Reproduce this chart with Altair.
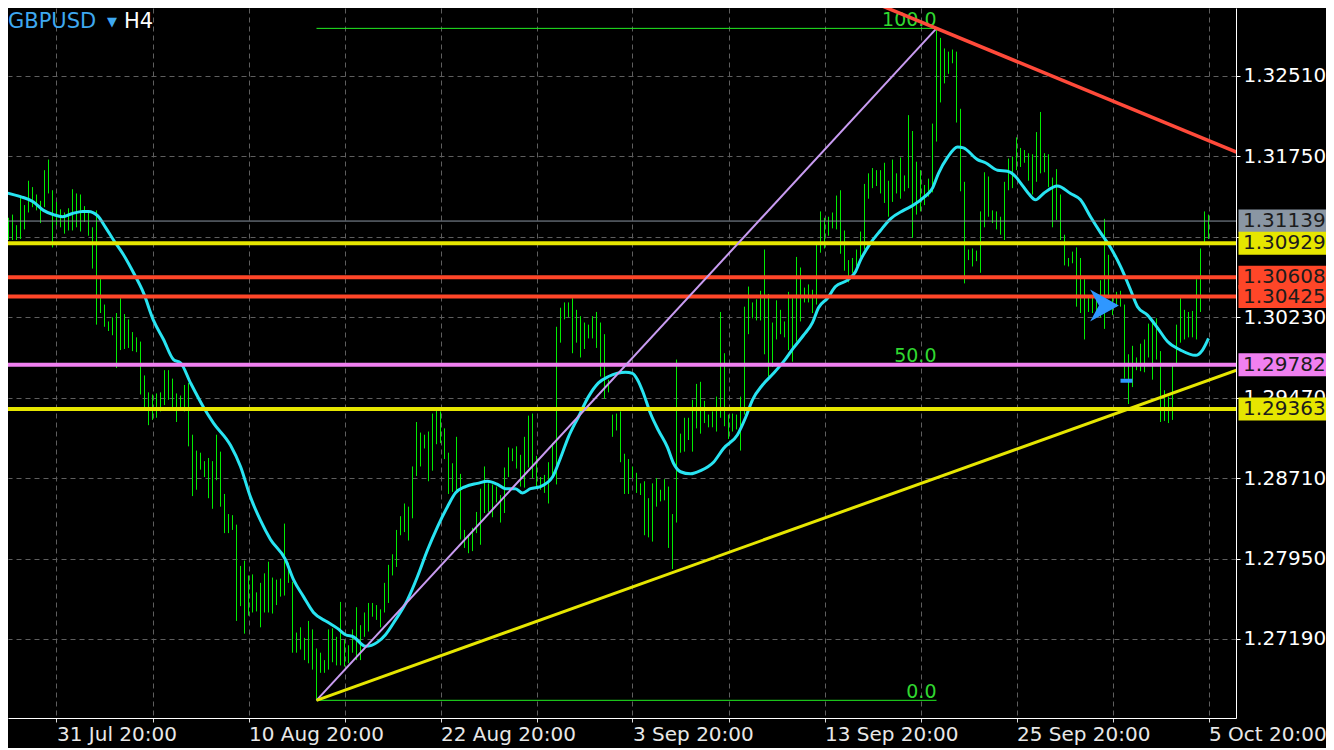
import altair as alt
import pandas as pd

# ---------------- data (GBPUSD H4) ----------------
bar_high = [
    1.3130, 1.3117, 1.3120, 1.3110, 1.3136, 1.3129, 1.3152, 1.3146, 1.3139, 1.3133,
    1.3162, 1.3172, 1.3143, 1.3132, 1.3125, 1.3122, 1.3126, 1.3144, 1.3140, 1.3139,
    1.3128, 1.3124, 1.3108, 1.3124, 1.3061, 1.3035, 1.3019, 1.3023, 1.3027, 1.3041,
    1.3026, 1.3021, 1.3009, 1.3004, 1.3000, 1.2968, 1.2952, 1.2950, 1.2951, 1.2952,
    1.2973, 1.2973, 1.2965, 1.2951, 1.2949, 1.2959, 1.2961, 1.2912, 1.2897, 1.2895,
    1.2887, 1.2890, 1.2887, 1.2912, 1.2896, 1.2856, 1.2837, 1.2836, 1.2827, 1.2788,
    1.2793, 1.2779, 1.2780, 1.2763, 1.2772, 1.2781, 1.2792, 1.2777, 1.2775, 1.2776,
    1.2828, 1.2791, 1.2773, 1.2725, 1.2730, 1.2720, 1.2736, 1.2728, 1.2710, 1.2706,
    1.2699, 1.2728, 1.2729, 1.2721, 1.2754, 1.2718, 1.2713, 1.2728, 1.2749, 1.2732,
    1.2744, 1.2753, 1.2753, 1.2751, 1.2747, 1.2772, 1.2789, 1.2799, 1.2822, 1.2835,
    1.2847, 1.2844, 1.2882, 1.2924, 1.2914, 1.2912, 1.2915, 1.2932, 1.2935, 1.2934,
    1.2918, 1.2895, 1.2885, 1.2910, 1.2875, 1.2822, 1.2817, 1.2824, 1.2839, 1.2861,
    1.2882, 1.2866, 1.2865, 1.2863, 1.2855, 1.2881, 1.2900, 1.2899, 1.2901, 1.2893,
    1.2910, 1.2930, 1.2932, 1.2892, 1.2872, 1.2874, 1.2886, 1.2904, 1.3014, 1.3032,
    1.3037, 1.3037, 1.3041, 1.3030, 1.3024, 1.3018, 1.3016, 1.3024, 1.3028, 1.3018,
    1.3007, 1.2964, 1.2931, 1.2932, 1.2934, 1.2894, 1.2889, 1.2882, 1.2876, 1.2866,
    1.2868, 1.2852, 1.2866, 1.2871, 1.2860, 1.2870, 1.2863, 1.2837, 1.2983, 1.2913,
    1.2928, 1.2928, 1.2945, 1.2960, 1.2962, 1.2944, 1.2931, 1.2934, 1.2948, 1.3028,
    1.2989, 1.2931, 1.2932, 1.2931, 1.2948, 1.3033, 1.3052, 1.3037, 1.3040, 1.3048,
    1.3087, 1.3045, 1.3018, 1.3039, 1.3030, 1.3019, 1.3047, 1.3041, 1.3080, 1.3070,
    1.3051, 1.3054, 1.3049, 1.3093, 1.3123, 1.3117, 1.3118, 1.3122, 1.3138, 1.3143,
    1.3105, 1.3077, 1.3079, 1.3087, 1.3104, 1.3149, 1.3159, 1.3164, 1.3162, 1.3162,
    1.3169, 1.3152, 1.3172, 1.3159, 1.3174, 1.3157, 1.3214, 1.3199, 1.3170, 1.3162,
    1.3148, 1.3154, 1.3206, 1.3296, 1.3287, 1.3277, 1.3274, 1.3276, 1.3274, 1.3220,
    1.3151, 1.3087, 1.3088, 1.3086, 1.3123, 1.3160, 1.3156, 1.3124, 1.3123, 1.3118,
    1.3151, 1.3173, 1.3175, 1.3193, 1.3183, 1.3181, 1.3178, 1.3177, 1.3198, 1.3217,
    1.3178, 1.3177, 1.3155, 1.3163, 1.3139, 1.3101, 1.3079, 1.3085, 1.3089, 1.3079,
    1.3059, 1.3042, 1.3042, 1.3041, 1.3058, 1.3116, 1.3082, 1.3042, 1.3047, 1.3048,
    1.3035, 1.2988, 1.2996, 1.2985, 1.2998, 1.3002, 1.3017, 1.3018, 1.3022, 1.2991,
    1.2954, 1.2948, 1.2978, 1.3016, 1.3041, 1.3030, 1.3028, 1.3029, 1.3059, 1.3088,
    1.3123, 1.3120,
]
bar_low = [
    1.3098, 1.3096, 1.3096, 1.3096, 1.3097, 1.3106, 1.3122, 1.3127, 1.3124, 1.3112,
    1.3127, 1.3140, 1.3089, 1.3110, 1.3108, 1.3102, 1.3105, 1.3105, 1.3108, 1.3104,
    1.3113, 1.3100, 1.3069, 1.3016, 1.3027, 1.3014, 1.3010, 1.3006, 1.2975, 1.2992,
    1.2993, 1.2994, 1.2991, 1.2990, 1.2950, 1.2935, 1.2921, 1.2926, 1.2928, 1.2934,
    1.2940, 1.2945, 1.2938, 1.2924, 1.2938, 1.2934, 1.2901, 1.2854, 1.2860, 1.2879,
    1.2872, 1.2852, 1.2842, 1.2869, 1.2844, 1.2819, 1.2819, 1.2822, 1.2736, 1.2750,
    1.2724, 1.2741, 1.2744, 1.2745, 1.2730, 1.2744, 1.2744, 1.2743, 1.2751, 1.2759,
    1.2760, 1.2772, 1.2706, 1.2706, 1.2709, 1.2699, 1.2696, 1.2690, 1.2661, 1.2687,
    1.2687, 1.2690, 1.2697, 1.2694, 1.2694, 1.2693, 1.2696, 1.2706, 1.2699, 1.2699,
    1.2721, 1.2726, 1.2740, 1.2737, 1.2730, 1.2744, 1.2753, 1.2779, 1.2787, 1.2817,
    1.2820, 1.2812, 1.2833, 1.2873, 1.2882, 1.2899, 1.2868, 1.2878, 1.2903, 1.2904,
    1.2889, 1.2856, 1.2858, 1.2857, 1.2813, 1.2805, 1.2800, 1.2802, 1.2819, 1.2808,
    1.2838, 1.2839, 1.2834, 1.2848, 1.2829, 1.2838, 1.2872, 1.2887, 1.2880, 1.2863,
    1.2862, 1.2881, 1.2871, 1.2863, 1.2860, 1.2857, 1.2847, 1.2872, 1.2865, 1.2999,
    1.3021, 1.3023, 1.2989, 1.2999, 1.2985, 1.2993, 1.3003, 1.3003, 1.2994, 1.2967,
    1.2946, 1.2952, 1.2910, 1.2916, 1.2886, 1.2856, 1.2856, 1.2871, 1.2857, 1.2855,
    1.2817, 1.2815, 1.2811, 1.2844, 1.2849, 1.2850, 1.2805, 1.2785, 1.2829, 1.2895,
    1.2896, 1.2907, 1.2896, 1.2918, 1.2913, 1.2923, 1.2919, 1.2919, 1.2915, 1.2928,
    1.2920, 1.2908, 1.2915, 1.2917, 1.2897, 1.2931, 1.3007, 1.3022, 1.3020, 1.3020,
    1.2988, 1.2967, 1.2976, 1.3002, 1.3007, 1.3004, 1.2992, 1.2981, 1.3000, 1.3019,
    1.3037, 1.3037, 1.3027, 1.3035, 1.3084, 1.3088, 1.3100, 1.3107, 1.3106, 1.3083,
    1.3067, 1.3056, 1.3065, 1.3071, 1.3080, 1.3087, 1.3135, 1.3145, 1.3147, 1.3140,
    1.3131, 1.3118, 1.3132, 1.3140, 1.3135, 1.3142, 1.3145, 1.3098, 1.3120, 1.3123,
    1.3129, 1.3137, 1.3141, 1.3189, 1.3226, 1.3244, 1.3253, 1.3263, 1.3207, 1.3142,
    1.3055, 1.3077, 1.3071, 1.3076, 1.3065, 1.3108, 1.3118, 1.3112, 1.3106, 1.3101,
    1.3096, 1.3143, 1.3145, 1.3162, 1.3165, 1.3169, 1.3152, 1.3139, 1.3151, 1.3159,
    1.3160, 1.3146, 1.3108, 1.3115, 1.3096, 1.3072, 1.3071, 1.3074, 1.3033, 1.3027,
    1.3002, 1.3028, 1.3027, 1.3028, 1.3023, 1.3012, 1.3041, 1.3025, 1.3033, 1.3033,
    1.2965, 1.2941, 1.2957, 1.2973, 1.2972, 1.2971, 1.2985, 1.2964, 1.2983, 1.2924,
    1.2925, 1.2923, 1.2926, 1.2978, 1.2999, 1.3002, 1.3004, 1.3004, 1.3002, 1.3028,
    1.3093, 1.3097,
]

# moving average (bar index, price)
ma_index = [
    0, 4, 7.25, 9.75, 12.25, 14.5, 17, 19.5, 21, 23.25, 25.25, 27.25, 29.75, 32.25,
    34.75, 37.25, 39.75, 42.25, 44, 46.5, 49.75, 52.25, 56.5, 59, 61.5, 64, 66.5,
    70.25, 72.25, 74.75, 77.25, 80.75, 83.25, 85.25, 87.25, 90.25, 93.25, 95.25,
    97.75, 100.75, 103.25, 105.75, 108.25, 110.75, 112.75, 115.25, 118.25, 120.75,
    123.25, 125.25, 127.75, 129.5, 131.5, 134, 137, 139, 141, 143.5, 146, 148.5,
    151, 153.25, 155.25, 157, 158.25, 159.75, 161.5, 163.5, 165.75, 167.25, 169,
    171.5, 174, 177.25, 179.75, 183.25, 185.25, 187, 189.5, 192.25, 194.75, 197.25,
    199.75, 202, 203.5, 205.75, 207.75, 210.75, 212.75, 214, 216.5, 219, 221.5,
    224.75, 227.25, 229.75, 232, 233.5, 235.75, 238.25, 239.75, 243.25, 245.25,
    248.25, 250.75, 252.75, 254, 256, 257.75, 259.75, 263.25, 266.5, 269, 271.5,
    274, 276.5, 279, 281.5, 283.25, 285.75, 288.25, 290.75, 294, 297.75, 299.5, 301,
]
ma_value = [
    1.3141, 1.3137, 1.3132, 1.3124, 1.3120, 1.3118, 1.3121, 1.3123, 1.3123, 1.3119,
    1.3108, 1.3096, 1.3082, 1.3065, 1.3046, 1.3020, 1.3002, 1.2983, 1.2980, 1.2961,
    1.2938, 1.2923, 1.2902, 1.2882, 1.2853, 1.2831, 1.2813, 1.2794, 1.2775, 1.2759,
    1.2744, 1.2735, 1.2729, 1.2723, 1.2721, 1.2712, 1.2716, 1.2723, 1.2737, 1.2756,
    1.2778, 1.2803, 1.2825, 1.2844, 1.2857, 1.2863, 1.2866, 1.2868, 1.2865, 1.2861,
    1.2861, 1.2857, 1.2861, 1.2863, 1.2872, 1.2890, 1.2910, 1.2929, 1.2948, 1.2961,
    1.2967, 1.2970, 1.2971, 1.2970, 1.2964, 1.2951, 1.2932, 1.2916, 1.2900, 1.2885,
    1.2877, 1.2875, 1.2878, 1.2886, 1.2899, 1.2912, 1.2928, 1.2945, 1.2959, 1.2970,
    1.2981, 1.2994, 1.3006, 1.3018, 1.3032, 1.3041, 1.3052, 1.3058, 1.3066, 1.3077,
    1.3093, 1.3105, 1.3116, 1.3124, 1.3129, 1.3136, 1.3145, 1.3159, 1.3174, 1.3184,
    1.3183, 1.3172, 1.3169, 1.3162, 1.3161, 1.3156, 1.3150, 1.3140, 1.3134, 1.3140,
    1.3147, 1.3140, 1.3134, 1.3118, 1.3103, 1.3089, 1.3071, 1.3049, 1.3033, 1.3025,
    1.3013, 1.3000, 1.2992, 1.2987, 1.2992, 1.3003,
]

# horizontal levels and their tags on the price scale
level_price = [1.30929, 1.30608, 1.30425, 1.29782, 1.29363]
level_color = ["#e6e600", "#ff4628", "#ff4628", "#f080f0", "#e6e600"]
bid_price = 1.31139
bid_color = "#8a96a3"

# Fibonacci retracement (bar index / price of its two anchors)
fib_start, fib_end = 78, 233
fib_price = [1.3296, 1.29785, 1.2661]
fib_label = ["100.0", "50.0", "0.0"]

# trend lines: from (bar, price) to (bar, price)
trend_x = [78, 218.5, 78]
trend_y = [1.2661, 1.33186, 1.2661]
trend_x2 = [233, 308, 308]
trend_y2 = [1.3296, 1.3179, 1.2973]
trend_color = ["#c99cf2", "#ff4a3a", "#e6e600"]
trend_width = [2, 3.5, 3]

# trade markers
arrow_bar, arrow_price = 275, 1.3034
dash_bar, dash_bar2, dash_price = 279, 282, 1.2963

# axes
grid_ticks = [13, 37, 61, 85, 109, 133, 157, 181, 205, 229, 253, 277, 301]
date_ticks = [13, 61, 109, 157, 205, 253, 301]
date_labels = ["31 Jul 20:00", "10 Aug 20:00", "22 Aug 20:00", "3 Sep 20:00",
               "13 Sep 20:00", "25 Sep 20:00", "5 Oct 20:00"]
price_ticks = [1.27190, 1.27950, 1.28710, 1.29470, 1.30230, 1.30990, 1.31750, 1.32510]
hidden_price_labels = [1.30990]  # fully covered by the 1.30929 tag in the picture

# ---------------- chart ----------------
FONT = "DejaVu Sans"
W, H = 1228, 710
xs = alt.Scale(domain=[0.875, 307.875], nice=False, zero=False)
ys = alt.Scale(domain=[1.264429, 1.331524], nice=False, zero=False)

x_label_expr = " : ".join(
    f"datum.value == {t} ? '{l}'" for t, l in zip(date_ticks, date_labels)
) + " : ''"
y_label_expr = " : ".join(
    f"abs(datum.value - {v}) < 0.00001 ? ''" for v in hidden_price_labels
) + " : datum.label"

x_axis = alt.Axis(
    values=grid_ticks, labelExpr=x_label_expr, labelAlign="left", labelBaseline="top",
    labelFlush=False, labelOverlap=False, labelFont=FONT, labelFontSize=20,
    labelColor="#e8e8e8", labelPadding=2, tickSize=4, tickColor="#dddddd",
    domainColor="white", grid=True, gridColor="#5e5e5e", gridDash=[5, 4],
    title="", zindex=0,
)
y_axis = alt.Axis(
    orient="right", values=price_ticks, format=".5f", labelExpr=y_label_expr,
    labelFont=FONT, labelFontSize=20, labelColor="white", labelPadding=3, tickSize=4,
    tickColor="white", domainColor="white", grid=True, gridColor="#5e5e5e",
    gridDash=[5, 4], labelOverlap=False, title="", zindex=0,
)


def X(field):
    return alt.X(field, type="quantitative", scale=xs, axis=x_axis)


def Y(field):
    return alt.Y(field, type="quantitative", scale=ys, axis=y_axis)


bars_df = pd.DataFrame({"i": list(range(len(bar_high))), "high": bar_high, "low": bar_low})
ma_df = pd.DataFrame({"i": ma_index, "p": ma_value})
lvl_df = pd.DataFrame({"p": level_price, "c": level_color,
                       "t": [f"{p:.5f}" for p in level_price]})
bid_df = pd.DataFrame({"p": [bid_price], "c": [bid_color], "t": [f"{bid_price:.5f}"]})
fib_df = pd.DataFrame({"p": fib_price, "t": fib_label, "a": [fib_start] * 3, "b": [fib_end] * 3})
trend_df = pd.DataFrame({"x": trend_x, "y": trend_y, "x2": trend_x2, "y2": trend_y2,
                         "c": trend_color, "w": trend_width})
arrow_df = pd.DataFrame({"i": [arrow_bar], "p": [arrow_price]})
dash_df = pd.DataFrame({"i": [dash_bar], "i2": [dash_bar2], "p": [dash_price]})

base_bars = alt.Chart(bars_df).mark_rule(color="#00ec00", strokeWidth=1, clip=True).encode(
    x=X("i"), y=Y("low"), y2="high:Q")

ma = alt.Chart(ma_df).mark_line(color="#28e4f2", strokeWidth=3, interpolate="monotone",
                                clip=True).encode(x=X("i"), y=Y("p"))

fib_lines = alt.Chart(fib_df).mark_rule(color="#22ee22", strokeWidth=1).encode(
    x=X("a"), x2="b:Q", y=Y("p"))
fib_text = alt.Chart(fib_df).mark_text(align="right", baseline="alphabetic", dy=-2,
                                       font=FONT, fontSize=19, color="#30d830").encode(
    x=X("b"), y=Y("p"), text="t:N")

bid_line = alt.Chart(bid_df).mark_rule(strokeWidth=1).encode(
    y=Y("p"), color=alt.Color("c:N", scale=None))

levels = alt.Chart(lvl_df).mark_rule(strokeWidth=4, strokeCap="butt").encode(
    y=Y("p"), color=alt.Color("c:N", scale=None))

trends = alt.Chart(trend_df).mark_rule(clip=True, strokeCap="butt").encode(
    x=X("x"), x2="x2:Q", y=Y("y"), y2="y2:Q",
    color=alt.Color("c:N", scale=None),
    strokeWidth=alt.StrokeWidth("w:Q", scale=None),
)

arrow = alt.Chart(arrow_df).mark_point(
    shape="M -0.9 -1 L 0.9 0 L -0.9 1 L -0.35 0 Z", size=1024, filled=True,
    color="#2f97ff", opacity=1).encode(x=X("i"), y=Y("p"))

dash = alt.Chart(dash_df).mark_rule(strokeWidth=4, color="#2f97ff", strokeCap="butt").encode(
    x=X("i"), x2="i2:Q", y=Y("p"))

tags_df = pd.concat([bid_df, lvl_df], ignore_index=True)
tag_boxes = alt.Chart(tags_df).mark_rule(strokeWidth=23, strokeCap="butt").encode(
    x=alt.datum(308.5, type="quantitative", scale=xs, axis=x_axis), x2=alt.datum(330.5),
    y=Y("p"), color=alt.Color("c:N", scale=None))
tag_text = alt.Chart(tags_df).mark_text(align="left", baseline="middle", font=FONT,
                                        fontSize=20, color="#1c1c1c").encode(
    x=alt.datum(309.625, type="quantitative", scale=xs, axis=x_axis),
    y=Y("p"), text="t:N")

title_sym = alt.Chart(pd.DataFrame({"t": ["GBPUSD"]})).mark_text(
    align="left", baseline="alphabetic", font=FONT, fontSize=21, color="#3ea8f0").encode(
    x=alt.value(0), y=alt.value(20), text="t:N")
title_arrow = alt.Chart(pd.DataFrame({"t": ["▼"]})).mark_text(
    align="left", baseline="alphabetic", font=FONT, fontSize=13, color="#3ea8f0").encode(
    x=alt.value(99), y=alt.value(18), text="t:N")
title_tf = alt.Chart(pd.DataFrame({"t": ["H4"]})).mark_text(
    align="left", baseline="alphabetic", font=FONT, fontSize=21, color="white").encode(
    x=alt.value(116), y=alt.value(20), text="t:N")

chart = alt.layer(
    base_bars, ma, fib_lines, fib_text, bid_line, levels, trends, arrow, dash,
    tag_boxes, tag_text, title_sym, title_arrow, title_tf,
).properties(
    width=W, height=H, background="black",
    padding={"left": 0, "top": 0, "right": 90, "bottom": 30},
    autosize=alt.AutoSizeParams(type="none"),
).configure_view(stroke="transparent", fill="black")

chart.save("out.html", embed_options={"renderer": "svg", "actions": False})
